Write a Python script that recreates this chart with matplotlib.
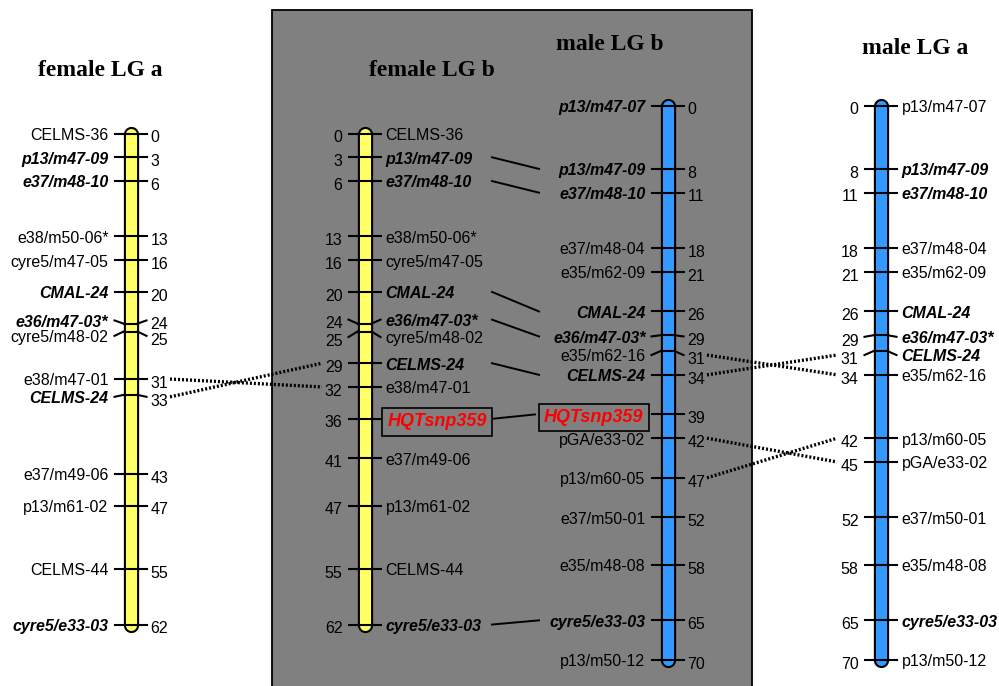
import matplotlib
matplotlib.use("Agg")
import matplotlib.pyplot as plt
from matplotlib.patches import Rectangle

# ------------------------------------------------------------------ data
fa_names = ["CELMS-36", "p13/m47-09", "e37/m48-10", "e38/m50-06*", "cyre5/m47-05",
            "CMAL-24", "e36/m47-03*", "cyre5/m48-02", "e38/m47-01", "CELMS-24",
            "e37/m49-06", "p13/m61-02", "CELMS-44", "cyre5/e33-03"]
fa_pos = [0, 3, 6, 13, 16, 20, 24, 25, 31, 33, 43, 47, 55, 62]
fa_bold = ["p13/m47-09", "e37/m48-10", "CMAL-24", "e36/m47-03*", "CELMS-24", "cyre5/e33-03"]

fb_names = ["CELMS-36", "p13/m47-09", "e37/m48-10", "e38/m50-06*", "cyre5/m47-05",
            "CMAL-24", "e36/m47-03*", "cyre5/m48-02", "CELMS-24", "e38/m47-01",
            "HQTsnp359", "e37/m49-06", "p13/m61-02", "CELMS-44", "cyre5/e33-03"]
fb_pos = [0, 3, 6, 13, 16, 20, 24, 25, 29, 32, 36, 41, 47, 55, 62]
fb_bold = ["p13/m47-09", "e37/m48-10", "CMAL-24", "e36/m47-03*", "CELMS-24", "cyre5/e33-03"]

mb_names = ["p13/m47-07", "p13/m47-09", "e37/m48-10", "e37/m48-04", "e35/m62-09",
            "CMAL-24", "e36/m47-03*", "e35/m62-16", "CELMS-24", "HQTsnp359",
            "pGA/e33-02", "p13/m60-05", "e37/m50-01", "e35/m48-08", "cyre5/e33-03",
            "p13/m50-12"]
mb_pos = [0, 8, 11, 18, 21, 26, 29, 31, 34, 39, 42, 47, 52, 58, 65, 70]
mb_bold = ["p13/m47-07", "p13/m47-09", "e37/m48-10", "CMAL-24", "e36/m47-03*",
           "CELMS-24", "cyre5/e33-03"]

ma_names = ["p13/m47-07", "p13/m47-09", "e37/m48-10", "e37/m48-04", "e35/m62-09",
            "CMAL-24", "e36/m47-03*", "CELMS-24", "e35/m62-16", "p13/m60-05",
            "pGA/e33-02", "e37/m50-01", "e35/m48-08", "cyre5/e33-03", "p13/m50-12"]
ma_pos = [0, 8, 11, 18, 21, 26, 29, 31, 34, 42, 45, 52, 58, 65, 70]
ma_bold = ["p13/m47-09", "e37/m48-10", "CMAL-24", "e36/m47-03*", "CELMS-24", "cyre5/e33-03"]

qtl_marker = "HQTsnp359"
titles = ["female LG a", "female LG b", "male LG b", "male LG a"]

# dotted links (rearranged markers between homologous maps)
fem_dotted = ["e38/m47-01", "CELMS-24"]
male_dotted = ["e35/m62-16", "CELMS-24", "pGA/e33-02", "p13/m60-05"]

# ------------------------------------------------------------------ layout
SANS = ["Liberation Sans", "DejaVu Sans"]
SERIF = ["Liberation Serif", "DejaVu Serif"]
FS = 11.5
YTOP, YBOT = -16.86, 69.76        # cM range of figure (female reference)
MALE_OFF = -3.53                  # vertical shift of male maps

maps = {
    "fa": dict(names=fa_names, pos=fa_pos, bold=fa_bold, x=130.5, off=0.0,
               names_side="left", color="#FFFF66", title=titles[0], tx=100, ty=-8.0,
               nudge={"e36/m47-03*": -0.4, "cyre5/m48-02": 0.55, "CELMS-24": 0.25}),
    "fb": dict(names=fb_names, pos=fb_pos, bold=fb_bold, x=364.5, off=0.0,
               names_side="right", color="#FFFF66", title=titles[1], tx=432, ty=-8.0,
               nudge={"e36/m47-03*": -0.5, "cyre5/m48-02": 0.7}),
    "mb": dict(names=mb_names, pos=mb_pos, bold=mb_bold, x=667.5, off=MALE_OFF,
               names_side="left", color="#3399FF", title=titles[2], tx=610, ty=-11.2,
               nudge={"e36/m47-03*": 0.15, "e35/m62-16": 0.5}),
    "ma": dict(names=ma_names, pos=ma_pos, bold=ma_bold, x=880.5, off=MALE_OFF,
               names_side="right", color="#3399FF", title=titles[3], tx=915, ty=-10.7,
               nudge={"e36/m47-03*": 0.2, "CELMS-24": 0.5}),
}

fig = plt.figure(figsize=(9.99, 6.86), dpi=100)
ax = fig.add_axes([0, 0, 1, 1])
ax.set_xlim(0, 999)
ax.set_ylim(YBOT, YTOP)
ax.axis("off")

# grey panel behind female LG b / male LG b
ax.add_patch(Rectangle((272, -15.6), 480, 90, facecolor="#808080",
                       edgecolor="black", linewidth=1.3, zorder=0))


def label_y(m, name):
    i = m["names"].index(name)
    return m["pos"][i] + m["off"] + m["nudge"].get(name, 0.0)


for key, m in maps.items():
    cx = m["x"]
    y0 = m["pos"][0] + m["off"]
    y1 = m["pos"][-1] + m["off"]
    ax.plot([cx, cx], [y0, y1], color="black", lw=11, solid_capstyle="round", zorder=2)
    ax.plot([cx, cx], [y0, y1], color=m["color"], lw=8.0, solid_capstyle="round", zorder=3)
    ax.text(m["tx"], m["ty"], m["title"], ha="center", va="center", fontsize=17,
            fontweight="bold", family=SERIF, zorder=5)
    for name, p in zip(m["names"], m["pos"]):
        y = p + m["off"]
        yl = y + m["nudge"].get(name, 0.0)
        # tick across bar + bent stubs
        ax.plot([cx - 7, cx + 7], [y, y], color="black", lw=1.5, zorder=4)
        ax.plot([cx - 7, cx - 16], [y, yl], color="black", lw=1.5, zorder=4)
        ax.plot([cx + 7, cx + 16], [y, yl], color="black", lw=1.5, zorder=4)
        is_b = name in m["bold"]
        is_q = name == qtl_marker
        nkw = dict(family=SANS, fontsize=FS, zorder=5, va="baseline")
        if is_b or is_q:
            nkw.update(fontweight="bold", style="italic")
        if is_q:
            nkw.update(color="#FF0000", fontsize=13,
                       bbox=dict(boxstyle="square,pad=0.3", fc="#808080", ec="black", lw=1.2))
        if m["names_side"] == "left":
            nx, nha = cx - 22, "right"
            px, pha = cx + 20, "left"
            if is_q:
                nx = cx - 24
        else:
            nx, nha = cx + 21, "left"
            px, pha = cx - 22, "right"
            if is_q:
                nx = cx + 23
        ax.text(nx, yl + (0.95 if is_q else 0.8), name, ha=nha, **nkw)
        ax.text(px, yl + 1.1, str(p), ha=pha, va="baseline", family=SANS,
                fontsize=FS, zorder=5)

# solid links female LG b <-> male LG b (shared markers)
fb, mb, fa, ma = maps["fb"], maps["mb"], maps["fa"], maps["ma"]
for name in fb["names"]:
    if name in mb["names"]:
        xs = (494, 535) if name == qtl_marker else (492, 539)
        ax.plot(xs, [label_y(fb, name), label_y(mb, name)], color="black", lw=1.4, zorder=4)

# dotted links female LG a -> female LG b
for name in fem_dotted:
    ax.plot([170, 322], [label_y(fa, name), label_y(fb, name)], color="black", lw=2.4,
            linestyle=(0, (0.6, 0.6)), zorder=4)
# dotted links male LG b -> male LG a
for name in male_dotted:
    ax.plot([707, 837], [label_y(mb, name), label_y(ma, name)], color="black", lw=2.4,
            linestyle=(0, (0.6, 0.6)), zorder=4)

fig.savefig("out.png", dpi=100, facecolor="white")
